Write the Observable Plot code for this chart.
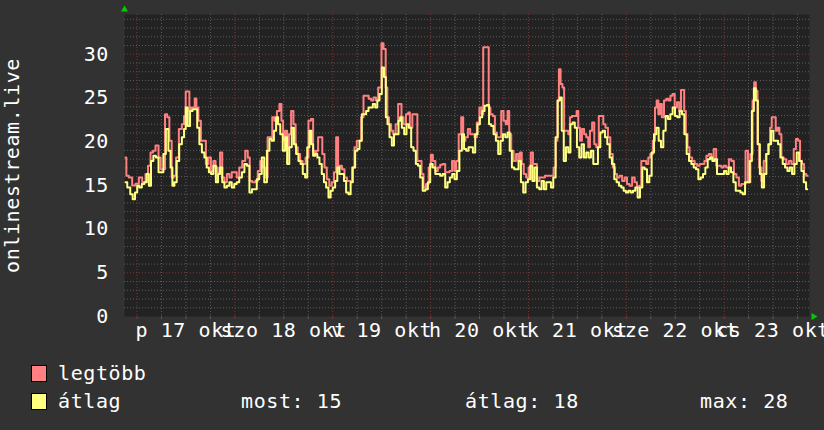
<!DOCTYPE html>
<html>
<head>
<meta charset="utf-8">
<script src="https://cdn.jsdelivr.net/npm/d3@7"></script>
<script src="https://cdn.jsdelivr.net/npm/@observablehq/plot@0.6"></script>
<style>
  html, body { margin: 0; padding: 0; background: #323232; }
  #wrap { position: relative; width: 824px; height: 430px; overflow: hidden; background: #323232;
          font-family: "DejaVu Sans Mono", monospace; color: #fff; }
  #chart svg { display: block; }
  .lg { position: absolute; font-size: 20px; letter-spacing: 0.6px; white-space: pre; line-height: 20px; }
  .sw { position: absolute; width: 14px; height: 15px; border: 1px solid #000; }
</style>
</head>
<body>
<div id="wrap">
  <div id="chart"></div>
  <div id="legend"></div>
</div>
<script>
// ---- data (hours since 2025-10-17 00:00, values) ----
const maxHours = [-2.82,-2.41,-1.6,-0.78,0.04,0.86,1.68,2.49,2.9,3.72,4.13,4.95,5.6,6.01,6.58,7.16,7.65,8.22,8.79,9.28,9.86,10.67,11.33,11.74,12.15,12.72,12.97,13.54,13.95,14.36,14.76,15.34,15.99,16.56,17.22,17.79,18.45,19.02,19.51,20.08,20.65,21.15,21.72,22.37,22.94,23.52,24.17,24.74,25.4,26.22,26.87,27.44,27.85,28.67,29.33,29.9,30.55,31.12,31.7,32.35,32.92,33.42,33.99,34.64,35.21,35.62,36.03,36.61,37.01,37.5,38.08,38.65,39.14,39.71,40.29,40.94,41.76,42.33,42.99,43.39,43.8,44.21,44.62,45.19,45.69,46.26,46.83,47.48,48.06,48.55,49.12,49.53,49.94,50.59,51.17,51.82,52.39,53.05,53.62,54.19,54.68,55.26,55.83,56.48,57.14,57.71,58.28,58.94,59.35,59.75,60.16,60.74,61.23,61.55,62.04,62.62,63.03,63.84,64.25,64.66,65.07,65.64,66.3,66.71,67.12,67.93,68.59,68.92,69.57,69.98,70.55,71.21,71.86,72.27,72.84,73.5,74.07,74.64,75.3,75.87,76.36,76.93,77.59,78.0,78.57,79.22,79.8,80.2,80.86,81.43,82.0,82.49,83.07,83.64,84.29,84.7,85.11,85.77,86.09,86.42,86.91,87.57,87.98,88.55,89.04,89.61,90.18,90.67,91.08,91.49,92.07,92.64,93.29,93.7,94.11,94.6,95.09,95.75,96.32,96.81,97.38,97.79,98.36,99.02,99.67,100.41,101.06,101.88,102.45,102.94,103.27,103.68,104.09,104.58,104.91,105.56,105.97,106.38,106.95,107.61,108.02,108.43,108.83,109.41,109.9,110.47,110.88,111.29,111.94,112.35,112.92,113.58,114.15,114.56,115.21,115.79,116.36,117.01,117.42,118.0,118.65,119.3,119.88,120.45,121.1,121.76,122.33,122.9,123.39,123.97,124.54,125.19,125.6,126.18,126.83,127.24,127.65,128.06,128.47,128.96,129.53,130.1,130.59,131.08,131.58,132.15,132.72,133.21,133.62,134.03,134.36,134.85,135.17,135.83,136.48,137.06,137.71,138.28,138.94,139.35,139.92,140.57,141.15,141.72,142.37,143.03,143.6,144.17,144.83,145.48,146.06,146.71,147.28,147.94,148.51,148.92,149.57,150.14,150.72,151.21,151.53,152.02,152.35,152.84,153.42,153.99,154.48,155.05,155.46,155.87,156.44,156.85,157.34,157.75,158.32,158.9,159.55,160.2,160.78,161.35,161.84,162.41,162.82,163.39,163.8,164.46];
const maxValues = [18.2,16.1,15.9,15.0,15.2,15.9,15.35,16.3,17.25,18.75,18.95,19.55,18.2,16.85,16.85,23.15,22.8,20.1,15.9,16.1,18.2,21.45,22.0,22.95,25.75,25.75,23.5,23.9,23.9,24.95,23.9,22.4,20.1,20.1,17.45,18.2,16.65,17.8,17.05,16.5,18.75,15.9,15.35,16.3,15.9,16.5,16.5,15.9,17.05,17.8,18.95,18.2,15.5,15.35,15.5,16.65,17.8,17.05,15.9,20.5,20.5,22.8,22.4,23.5,24.3,22.4,20.1,21.25,19.15,20.85,23.5,22.0,19.35,18.6,17.8,17.45,18.2,22.4,22.6,18.95,18.6,18.95,20.5,20.5,18.6,17.05,15.7,14.95,15.35,16.5,20.5,17.05,17.25,16.85,15.9,15.5,15.5,17.05,19.35,20.1,20.1,22.8,25.25,25.25,24.9,24.7,25.05,24.7,26.2,26.2,31.25,30.6,26.2,22.8,22.0,21.25,20.85,22.0,24.3,24.3,22.8,22.0,23.15,23.35,21.6,23.15,23.15,17.8,17.8,16.3,14.75,15.15,17.05,18.5,17.8,16.65,17.05,17.35,17.45,16.5,16.5,16.65,17.8,16.65,17.8,20.85,22.8,20.1,20.5,21.45,20.85,20.85,20.5,22.2,23.9,23.15,30.8,30.8,30.8,23.9,23.15,22.95,21.05,20.5,20.5,23.5,22.4,22.0,23.5,20.85,18.95,17.8,18.6,17.8,18.75,17.45,16.3,15.9,17.05,18.75,17.45,17.45,15.5,15.9,15.9,16.1,16.1,16.1,17.05,20.1,24.7,28.3,26.6,26.2,21.25,21.25,20.85,22.8,22.95,22.95,23.5,21.6,20.1,21.45,20.85,20.5,19.35,21.25,22.2,19.7,19.35,22.95,22.95,22.0,21.6,20.5,18.6,17.05,16.3,15.9,16.1,15.5,15.9,15.15,14.95,15.9,15.35,14.75,14.95,17.8,17.8,17.45,18.2,18.6,20.1,23.9,24.7,23.15,24.3,22.8,24.7,24.9,24.7,25.25,25.45,23.9,24.5,23.5,25.9,25.9,23.5,20.85,19.35,18.2,17.8,17.45,17.25,17.45,17.45,17.8,18.4,18.6,18.0,19.15,17.25,17.25,17.05,17.25,17.05,18.0,17.8,16.3,15.9,14.95,15.15,15.15,18.95,15.35,18.6,24.7,26.8,25.8,19.7,17.05,15.5,17.8,18.6,19.7,21.6,22.8,22.8,21.25,21.6,20.85,18.2,18.0,17.45,17.8,17.45,19.15,20.3,20.1,17.8,17.45,16.3,16.1];
const avgHours = [-2.82,-1.96,-1.35,-0.78,-0.2,0.29,0.86,1.51,2.09,2.66,3.15,3.72,4.29,4.95,5.6,6.18,6.75,7.4,7.98,8.47,8.88,9.45,10.02,10.67,11.33,11.74,12.15,12.72,13.29,13.95,14.52,15.01,15.58,16.24,16.81,17.38,17.87,18.45,19.02,19.67,20.08,20.65,21.15,21.72,22.37,22.94,23.52,24.17,24.74,25.4,26.05,26.63,27.28,27.85,28.51,29.08,29.65,30.31,30.88,31.53,32.19,32.76,33.33,33.82,34.4,34.81,35.46,36.03,36.61,37.01,37.67,38.24,38.73,39.3,39.88,40.37,40.94,41.51,42.0,42.58,42.99,43.39,43.97,44.46,45.03,45.6,46.09,46.67,47.24,47.73,48.3,48.88,49.37,49.94,50.51,51.0,51.57,52.15,52.64,53.21,53.78,54.27,54.85,55.42,55.91,56.48,57.06,57.55,58.12,58.69,59.18,59.75,60.33,60.82,61.23,61.64,62.21,62.78,63.27,63.84,64.42,64.66,65.24,65.81,66.38,66.95,67.53,68.1,68.67,69.16,69.74,70.39,71.04,71.62,72.19,72.84,73.5,74.07,74.64,75.3,75.87,76.44,77.01,77.59,78.16,78.73,79.39,79.96,80.45,81.02,81.6,82.09,82.66,83.23,83.8,84.38,84.95,85.52,86.09,86.58,87.16,87.73,88.3,88.87,89.45,90.02,90.59,91.16,91.65,92.23,92.8,93.29,93.87,94.44,95.01,95.58,96.16,96.73,97.22,97.79,98.36,98.94,99.51,100.08,100.65,101.23,101.8,102.37,102.94,103.43,103.93,104.42,104.91,105.48,106.05,106.54,107.12,107.61,108.18,108.75,109.33,109.9,110.47,111.04,111.62,112.19,112.76,113.33,113.91,114.48,115.05,115.62,116.2,116.77,117.34,117.91,118.49,119.06,119.63,120.2,120.78,121.35,121.92,122.49,123.07,123.64,124.21,124.79,125.36,125.93,126.5,127.08,127.65,128.22,128.79,129.37,129.94,130.51,131.08,131.66,132.23,132.8,133.37,133.95,134.52,135.09,135.67,136.24,136.81,137.38,137.96,138.53,139.1,139.67,140.25,140.82,141.39,141.96,142.54,143.11,143.68,144.25,144.83,145.4,145.97,146.55,147.12,147.69,148.26,148.84,149.41,149.98,150.55,151.04,151.53,152.02,152.51,153.0,153.5,154.07,154.64,155.21,155.79,156.36,156.93,157.51,158.08,158.65,159.22,159.8,160.37,160.94,161.51,162.09,162.66,163.23,163.8,164.38];
const avgValues = [15.35,14.75,14.0,13.4,14.2,14.95,14.75,15.15,15.35,16.3,14.95,17.8,18.4,18.2,16.5,16.5,18.6,21.45,18.95,17.05,14.95,15.35,17.8,19.7,20.5,21.45,23.9,21.8,23.5,23.7,23.7,21.6,19.7,18.75,18.2,17.05,16.5,16.3,17.25,15.35,16.3,17.05,15.35,14.75,14.95,15.35,14.75,15.15,15.35,15.9,16.5,17.45,17.25,14.2,14.55,14.55,15.7,16.3,18.2,15.35,18.95,20.3,20.1,21.25,22.8,22.0,20.85,18.95,20.5,17.45,19.35,21.6,19.7,18.6,17.8,17.45,16.3,15.9,19.35,21.25,19.7,18.4,18.6,18.2,17.45,16.3,15.35,14.75,13.6,14.4,14.75,15.5,17.05,16.3,16.3,15.5,14.2,14.0,15.35,17.05,18.95,19.15,20.1,23.15,23.15,23.5,23.9,23.9,24.3,23.9,24.7,25.45,28.5,27.4,22.8,22.0,20.5,19.55,20.85,20.85,22.4,22.8,21.6,20.85,22.0,21.6,19.35,18.95,17.45,17.25,15.9,14.4,14.55,15.35,17.45,17.05,16.3,16.3,16.1,16.3,14.75,15.35,15.9,16.3,15.7,16.65,18.95,20.85,19.15,18.95,19.35,19.35,18.75,20.85,22.0,22.8,23.5,24.1,24.2,22.0,21.8,20.85,20.1,18.6,20.1,20.85,20.5,21.05,18.95,17.05,16.85,16.85,17.8,15.35,14.2,15.35,15.7,17.25,15.5,17.05,14.75,14.55,15.5,14.55,15.35,15.35,14.75,15.9,20.5,24.7,25.05,21.25,17.8,19.35,18.75,22.0,22.2,21.6,19.35,18.2,19.7,18.2,18.75,18.2,18.95,17.45,17.45,19.35,21.05,21.25,20.5,19.7,18.2,17.45,15.7,15.35,14.95,14.75,14.4,14.2,14.4,14.2,14.4,14.75,13.6,14.75,17.05,16.85,15.35,16.1,18.75,20.85,21.6,20.1,19.35,21.25,22.95,22.6,23.15,23.9,22.95,22.8,23.5,23.15,20.85,18.6,17.8,17.45,17.05,16.85,15.7,15.9,16.3,17.05,18.0,18.2,17.8,18.0,16.3,16.3,16.3,16.65,16.3,17.05,16.5,15.35,14.4,14.4,14.2,14.0,15.35,15.35,17.8,23.5,26.1,24.7,19.7,16.3,14.75,16.3,18.6,19.7,21.25,20.1,20.1,19.7,18.2,17.45,17.05,16.65,17.05,16.3,17.45,18.75,17.8,16.65,15.35,14.55];

const dayLabels = ["p 17 okt", "szo 18 okt", "v 19 okt", "h 20 okt", "k 21 okt", "sze 22 okt", "cs 23 okt"];
const yTicks = [0, 5, 10, 15, 20, 25, 30];
const yAxisTitle = "onlinestream.live";
const seriesNames = ["legtöbb", "átlag"];
const seriesColors = ["#ff8080", "#ffff80"];
const statLabels = ["most: 15", "átlag: 18", "max: 28"];

// ---- build ----
const T0 = Date.UTC(2025, 9, 17);
const H = 3600e3;
const toDate = h => new Date(T0 + h * H);
const maxData = maxHours.map((h, i) => ({t: toDate(h), v: maxValues[i]}));
const avgData = avgHours.map((h, i) => ({t: toDate(h), v: avgValues[i]}));
const xStart = new Date(T0 - 3.07 * H);
const xEnd = new Date(T0 + (168 - 3.07) * H);
const dayStarts = d3.utcDay.range(xStart, xEnd);
const sixHours = d3.utcHour.every(6).range(xStart, xEnd).filter(d => d.getUTCHours() !== 0);
const noons = dayStarts.map(d => new Date(+d + 12 * H));
const labelOf = new Map(noons.map((d, i) => [+d, dayLabels[i]]));
const yMinor = d3.range(1, 35).filter(v => v % 5 !== 0);
const yMajor = d3.range(5, 35, 5);

const gridGray = "#5c5c5c";
const gridRed = "#7d3636";
const font = "DejaVu Sans Mono";

const chart = Plot.plot({
  width: 824,
  height: 350,
  marginLeft: 124,
  marginRight: 15,
  marginTop: 14,
  marginBottom: 34,
  style: {background: "transparent", fontFamily: font, fontSize: "20px", color: "#ffffff", overflow: "visible"},
  x: {type: "utc", domain: [xStart, xEnd], label: null},
  y: {domain: [0, 34.55], label: null},
  marks: [
    Plot.frame({fill: "#222222", stroke: null}),
    Plot.ruleY(yMinor, {stroke: gridGray, strokeDasharray: "1,2", strokeWidth: 1}),
    Plot.ruleX(sixHours, {stroke: gridGray, strokeDasharray: "1,2", strokeWidth: 1}),
    Plot.ruleY(yMajor, {stroke: gridRed, strokeDasharray: "1,2", strokeWidth: 1}),
    Plot.ruleX(dayStarts, {stroke: gridRed, strokeDasharray: "1,2", strokeWidth: 1}),
    Plot.axisX(sixHours, {tickSize: 3, stroke: gridGray, tickFormat: () => "", label: null}),
    Plot.axisX(dayStarts, {tickSize: 3, stroke: gridRed, tickFormat: () => "", label: null}),
    Plot.axisX(noons, {tickSize: 0, tickPadding: 6, tickFormat: d => labelOf.get(+d), fill: "#ffffff", fontSize: 20, fontFamily: font, label: null}),
    Plot.axisY(yTicks, {tickSize: 0, tickPadding: 15.5, fill: "#ffffff", fontSize: 20, fontFamily: font, label: null}),
    Plot.text([yAxisTitle], {frameAnchor: "left", textAnchor: "middle", rotate: -90, dx: -112, fill: "#ffffff", fontSize: 20, fontFamily: font}),
    Plot.line(maxData, {x: "t", y: "v", stroke: seriesColors[0], strokeWidth: 2, curve: "step"}),
    Plot.line(avgData, {x: "t", y: "v", stroke: seriesColors[1], strokeWidth: 2, curve: "step"}),
    Plot.dot([0], {frameAnchor: "top-left", dy: -5, symbol: "triangle", r: 2.6, fill: "#00cc00", stroke: null}),
    Plot.dot([0], {frameAnchor: "bottom-right", dx: 4, symbol: "triangle", r: 2.6, rotate: 90, fill: "#00cc00", stroke: null})
  ]
});
document.getElementById("chart").appendChild(chart);
chart.querySelectorAll("text").forEach(t => t.style.letterSpacing = "0.6px");

// ---- legend ----
const lg = document.getElementById("legend");
function add(cls, css, text) {
  const el = document.createElement("div");
  el.className = cls;
  Object.assign(el.style, css);
  if (text != null) el.textContent = text;
  lg.appendChild(el);
}
add("sw", {left: "31px", top: "365px", background: seriesColors[0]});
add("lg", {left: "58px", top: "363px"}, seriesNames[0]);
add("sw", {left: "31px", top: "393px", background: seriesColors[1]});
add("lg", {left: "58px", top: "391px"}, seriesNames[1]);
add("lg", {left: "241px", top: "391px"}, statLabels[0]);
add("lg", {left: "465px", top: "391px"}, statLabels[1]);
add("lg", {left: "700px", top: "391px"}, statLabels[2]);
</script>
</body>
</html>
